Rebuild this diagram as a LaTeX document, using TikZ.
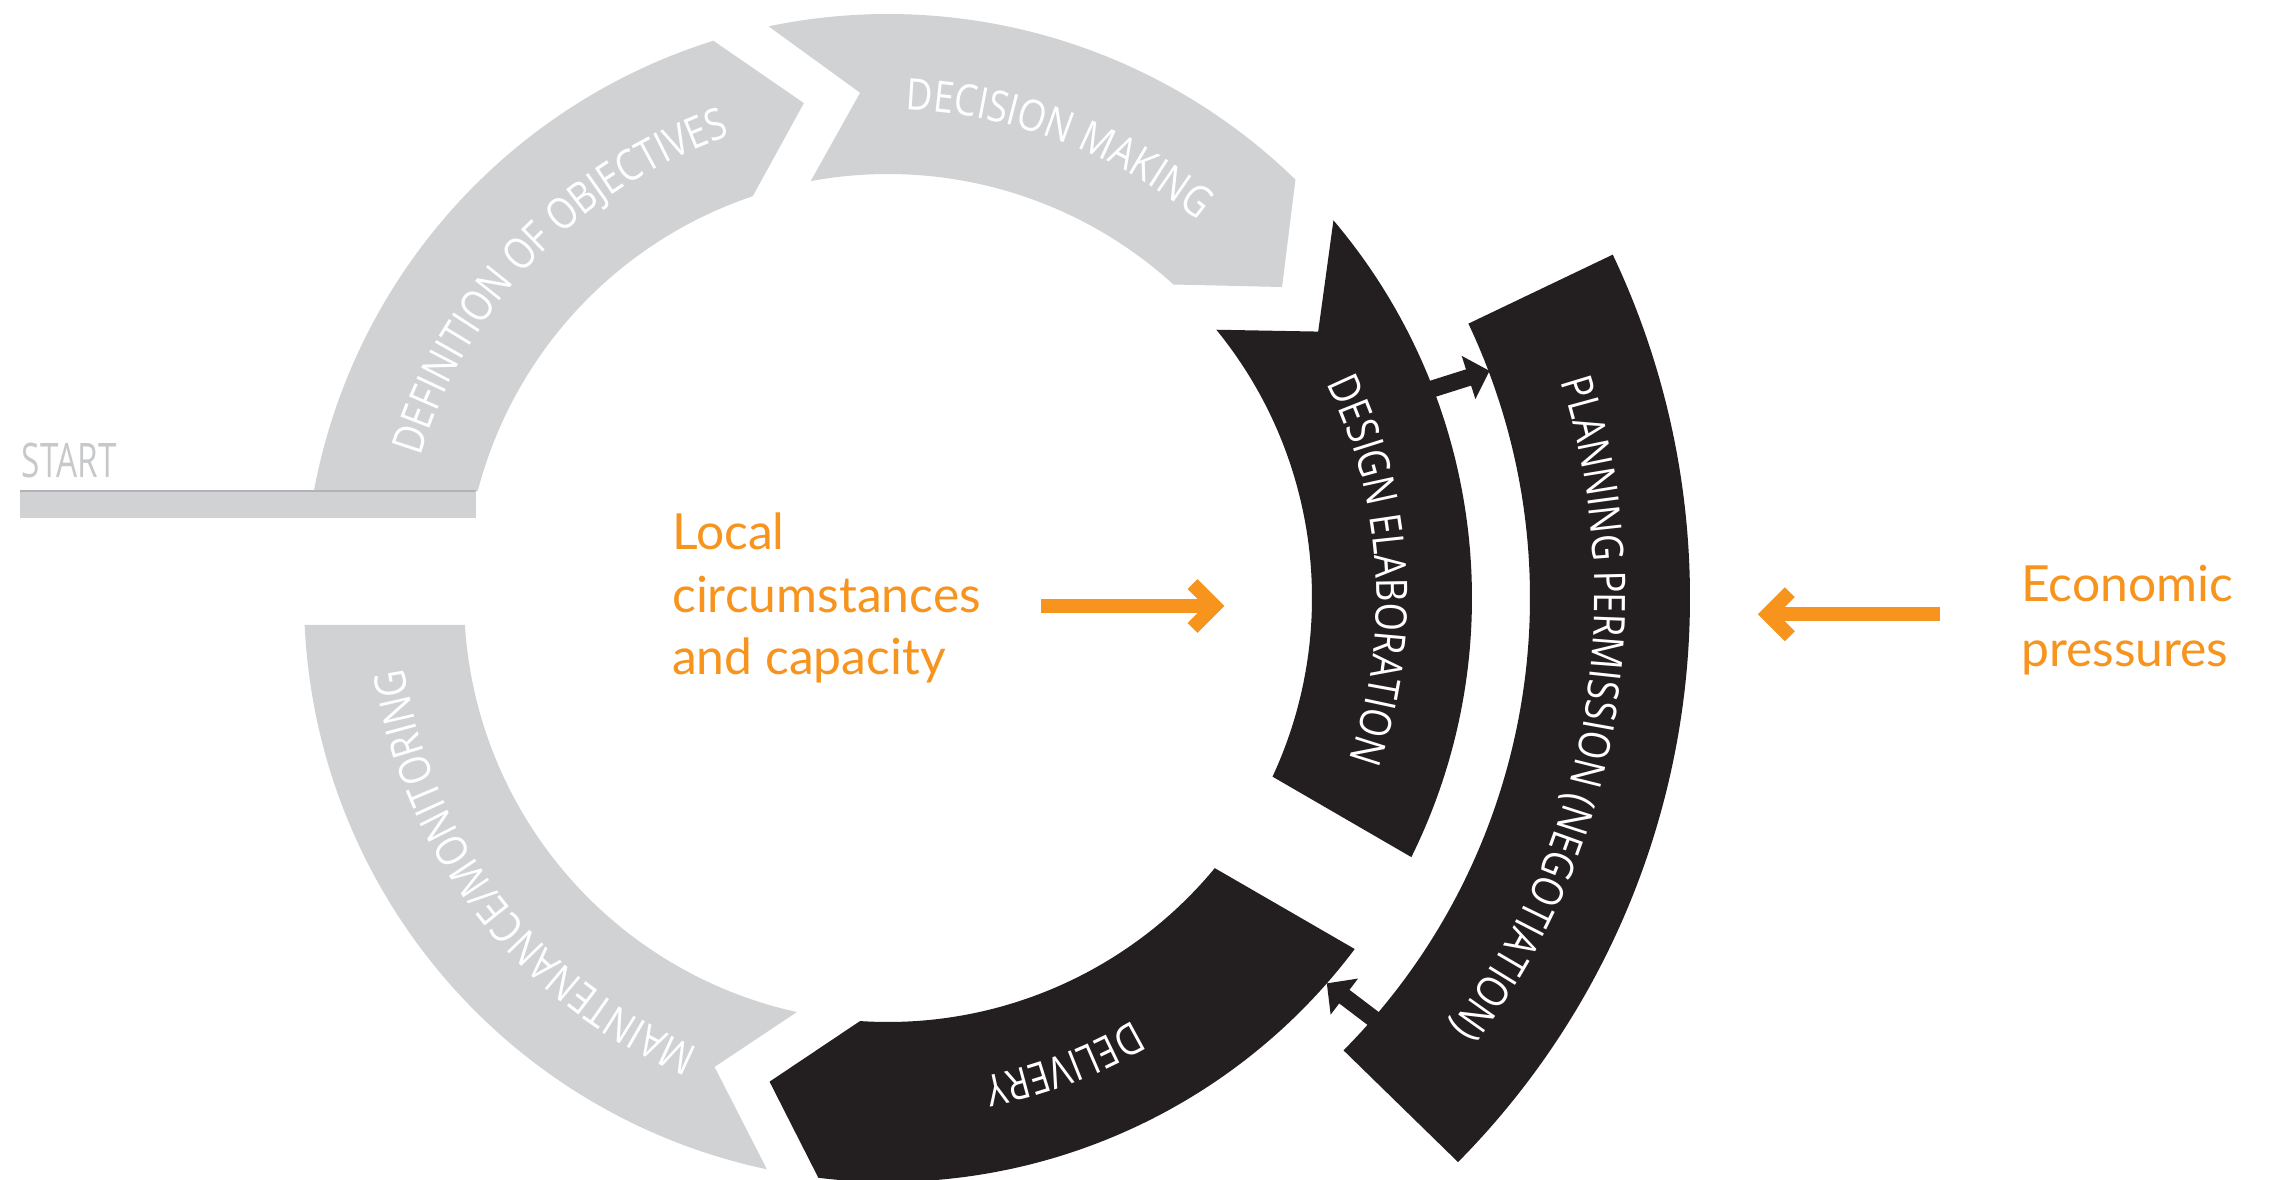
\documentclass[tikz,border=0pt]{standalone}
\usepackage{fontspec}
\setmainfont{Lato}
\newfontfamily\arcfont[FakeStretch=0.84]{Open Sans}
\newfontfamily\startfont[FakeStretch=0.70]{Open Sans}
\newfontfamily\orangefont{Lato}
\usetikzlibrary{decorations.text, arrows.meta}
\definecolor{segGrey}{HTML}{D1D2D4}
\definecolor{segBlack}{HTML}{231F20}
\definecolor{accOrange}{HTML}{F7941E}
\definecolor{startGrey}{HTML}{C7C8CA}
\definecolor{barLine}{HTML}{B1B3B6}
\newcommand\arcfmt{\arcfont\fontsize{43.4}{50}\selectfont}
\begin{document}
\begin{tikzpicture}[x=1pt,y=1pt,
  greyseg/.style={fill=segGrey, draw=none},
  blackseg/.style={fill=segBlack, draw=none},
  arctext/.style={decorate, decoration={text along path, text align=center, text color=white, text={|\arcfmt|#1}}},
  smallarrow/.style={draw=segBlack, line width=17pt, -{Triangle[length=22pt, width=44pt]}},
  orangearrow/.style={draw=accOrange, line width=14pt, line cap=butt, line join=miter},
  orangetxt/.style={anchor=base west, inner sep=0pt, text=accOrange, font=\orangefont\fontsize{49.8}{62}\selectfont}
]
\useasboundingbox (0,0) rectangle (2278,1180);
\fill[white] (0,0) rectangle (2278,1180);

% START bar
\path[fill=segGrey] (20,661.7) rectangle (476,689);
\node[anchor=base west, inner sep=0pt, text=startGrey, font=\startfont\fontsize{47.6}{50}\selectfont] (start) at (21.7,702.7) {START};

\begin{scope}[shift={(888,582)}]
% Definition of objectives
\path[greyseg] (169.44:584) arc[start angle=169.44, end angle=107.4, radius=584] -- (99.65:502) -- (108.6:424) arc[start angle=108.6, end angle=165.38, radius=424] -- cycle;
% Decision making
\path[greyseg] (101.8:584) arc[start angle=101.8, end angle=45.76, radius=584] -- (38.28:502) -- (47.68:424) arc[start angle=47.68, end angle=100.5, radius=424] -- (93.16:506) -- cycle;
% Design elaboration
\path[blackseg] (40.29:584) arc[start angle=40.29, end angle=-26.34, radius=584] -- (-24.92:424) arc[start angle=-24.92, end angle=39.25, radius=424] -- (31.77:506) -- cycle;
% Delivery
\path[blackseg] (-36.95:584) arc[start angle=-36.95, end angle=-96.85, radius=584] -- (-103.76:498) -- (-93.78:424) arc[start angle=-93.78, end angle=-39.58, radius=424] -- cycle;
% Maintenance / monitoring
\path[greyseg] (258.03:584) arc[start angle=258.03, end angle=182.65, radius=584] -- (183.65:424) arc[start angle=183.65, end angle=257.58, radius=424] -- (249.7:500) -- cycle;
% Planning permission
\path[blackseg] (25.35:802) arc[start angle=25.35, end angle=-44.7, radius=802] -- (-44.8:642) arc[start angle=-44.8, end angle=25.3, radius=642] -- cycle;

% small connecting arrows
\coordinate (a1s) at (21.06:575);
\coordinate (a1e) at (20.69:643);
\draw[smallarrow] (a1s) -- (a1e);
\coordinate (a2s) at (-40.87:650);
\coordinate (a2e) at (-41.29:584);
\draw[smallarrow] (a2s) -- (a2e);

% texts along the arcs
\path[arctext={DEFINITION OF OBJECTIVES}] (171:488.5) arc[start angle=171, end angle=101, radius=488.5];
\path[arctext={DECISION MAKING}] (104.25:488.5) arc[start angle=104.25, end angle=34.25, radius=488.5];
\path[arctext={DESIGN ELABORATION}] (38.4:488.5) arc[start angle=38.4, end angle=-31.6, radius=488.5];
\path[arctext={PLANNING PERMISSION (NEGOTIATION)}] (25.25:706.5) arc[start angle=25.25, end angle=-44.75, radius=706.5];
\path[arctext={DELIVERY}] (-34.3:488.5) arc[start angle=-34.3, end angle=-104.3, radius=488.5];
\path[arctext={MAINTENANCE/MONITORING}] (252.75:488.5) arc[start angle=252.75, end angle=182.75, radius=488.5];
\end{scope}

\draw[barLine, line width=2pt] (20,689) -- (476,689);

% orange arrows
\coordinate (l1) at (1041.3,574);
\coordinate (l2) at (1212,574);
\coordinate (lt) at (1214.5,574);
\coordinate (lu) at (1192.5,596);
\coordinate (ld) at (1192.5,552);
\draw[orangearrow] (l1) -- (l2);
\draw[orangearrow] (lu) -- (lt) -- (ld);
\coordinate (r1) at (1940.3,565.8);
\coordinate (r2) at (1770,565.8);
\coordinate (rt) at (1767.8,565.8);
\coordinate (ru) at (1789.8,587.8);
\coordinate (rd) at (1789.8,543.8);
\draw[orangearrow] (r1) -- (r2);
\draw[orangearrow] (ru) -- (rt) -- (rd);

% orange labels
\node[orangetxt] (loc1) at (672,630) {Local};
\node[orangetxt] (loc2) at (672,567.3) {circumstances};
\node[orangetxt] (loc3) at (672,505) {and capacity};
\node[orangetxt] (eco1) at (2021,578.3) {Economic};
\node[orangetxt] (eco2) at (2021,513.3) {pressures};
\end{tikzpicture}
\end{document}
